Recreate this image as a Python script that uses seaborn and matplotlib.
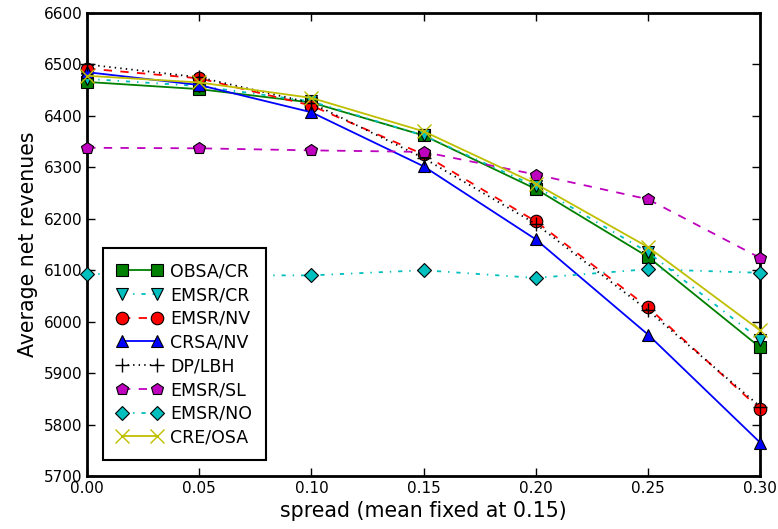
import numpy as np
import pandas as pd
import matplotlib
matplotlib.use("Agg")
import matplotlib.pyplot as plt
import seaborn as sns

spread = [0.00, 0.05, 0.10, 0.15, 0.20, 0.25, 0.30]

obsa_cr = [6466, 6452, 6426, 6362, 6258, 6126, 5950]
emsr_cr = [6472, 6458, 6428, 6362, 6263, 6135, 5965]
emsr_nv = [6492, 6473, 6420, 6325, 6195, 6028, 5830]
crsa_nv = [6485, 6460, 6407, 6302, 6160, 5975, 5765]
dp_lbh = [6500, 6475, 6425, 6318, 6190, 6022, 5835]
emsr_sl = [6338, 6337, 6333, 6330, 6286, 6238, 6124]
emsr_no = [6093, 6090, 6090, 6100, 6085, 6102, 6095]
cre_osa = [6478, 6465, 6435, 6370, 6268, 6145, 5983]

sns.set_style("ticks")
plt.rcParams["font.family"] = ["DejaVu Sans"]
plt.rcParams["text.color"] = "black"
plt.rcParams["axes.labelcolor"] = "black"
plt.rcParams["xtick.color"] = "black"
plt.rcParams["ytick.color"] = "black"
# old-style dash patterns
plt.rcParams["lines.scale_dashes"] = False
plt.rcParams["lines.dashed_pattern"] = [6, 6]
plt.rcParams["lines.dashdot_pattern"] = [3, 5, 1, 5]
plt.rcParams["lines.dotted_pattern"] = [1, 3]

fig = plt.figure(figsize=(7.78, 5.29), dpi=100)
ax = fig.add_axes([0.112, 0.1002, 0.865, 0.8752])

series = [
    ("OBSA/CR", obsa_cr, "green", "-", "s"),
    ("EMSR/CR", emsr_cr, "c", "-.", "v"),
    ("EMSR/NV", emsr_nv, "red", "--", "o"),
    ("CRSA/NV", crsa_nv, "blue", "-", "^"),
    ("DP/LBH", dp_lbh, "black", ":", "+"),
    ("EMSR/SL", emsr_sl, "m", "--", "p"),
    ("EMSR/NO", emsr_no, "c", "-.", "D"),
    ("CRE/OSA", cre_osa, "y", "-", "x"),
]

for name, vals, col, ls, mk in series:
    ms = 9
    if mk == "D":
        ms = 7
    if mk in ("+", "x"):
        ms = 10
    sns.lineplot(x=spread, y=vals, ax=ax, color=col, linestyle=ls, marker=mk,
                 markersize=ms, markeredgecolor="black" if mk not in ("+", "x") else col,
                 markeredgewidth=0.8 if mk not in ("+", "x") else 1.0,
                 linewidth=1.3, label=name, clip_on=False, zorder=3)

ax.set_xlim(0.0, 0.30)
ax.set_ylim(5700, 6600)
ax.set_xticks([0.00, 0.05, 0.10, 0.15, 0.20, 0.25, 0.30])
ax.set_xticklabels(["0.00", "0.05", "0.10", "0.15", "0.20", "0.25", "0.30"])
ax.set_yticks(np.arange(5700, 6601, 100))
ax.tick_params(direction="in", top=True, right=True, labelsize=11, length=6, width=1)
for s in ax.spines.values():
    s.set_linewidth(2)
    s.set_color("black")
ax.set_xlabel("spread (mean fixed at 0.15)", fontsize=14.8)
ax.set_ylabel("Average net revenues", fontsize=14.8)

leg = ax.legend(loc="lower left", numpoints=2, fontsize=12.5, frameon=True, fancybox=False,
                borderaxespad=0.9, handlelength=2.6, handletextpad=0.5,
                labelspacing=0.33, borderpad=0.8)
leg.get_frame().set_edgecolor("black")
leg.get_frame().set_linewidth(1.5)
leg.get_frame().set_alpha(1)
leg.set_zorder(10)

fig.savefig("out.png", dpi=100)
